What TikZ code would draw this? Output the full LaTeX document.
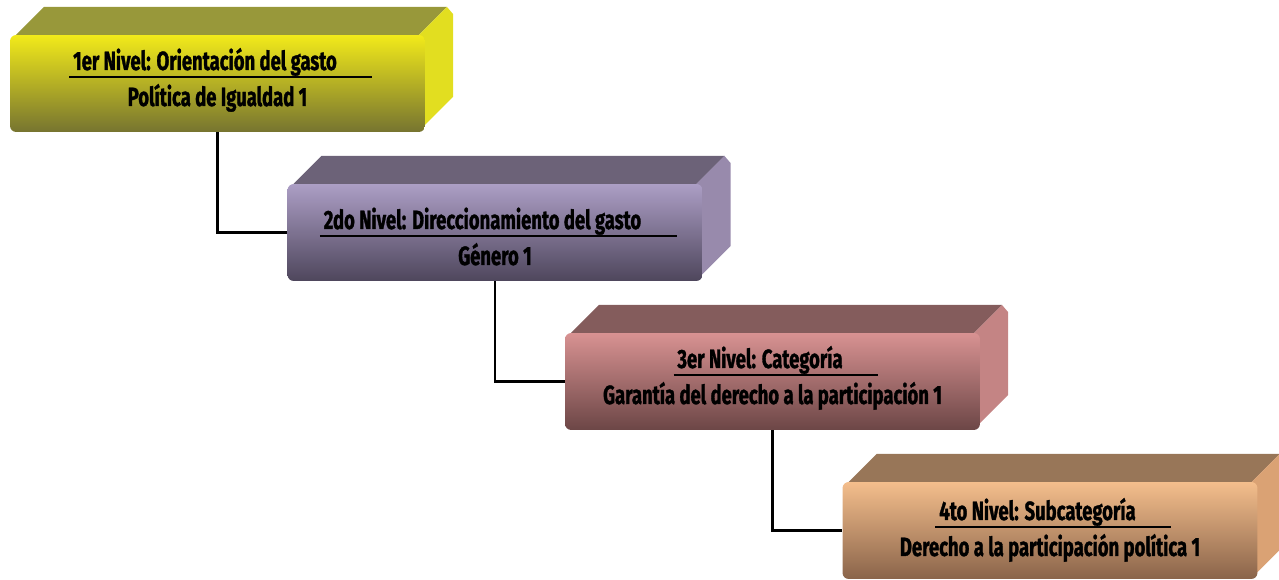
\documentclass[tikz,border=0pt]{standalone}
\usepackage{fontspec}
\setmainfont{Fira Sans}[FakeStretch=0.7,BoldFeatures={FakeBold=1.2}]
\usetikzlibrary{positioning}

\definecolor{ye-hi}{RGB}{242,234,26}
\definecolor{ye-lo}{RGB}{118,116,48}
\definecolor{ye-top}{RGB}{152,152,58}
\definecolor{ye-side}{RGB}{226,222,32}
\definecolor{li-hi}{RGB}{172,158,197}
\definecolor{li-lo}{RGB}{78,70,92}
\definecolor{li-top}{RGB}{108,98,120}
\definecolor{li-side}{RGB}{152,138,172}
\definecolor{ro-hi}{RGB}{216,146,146}
\definecolor{ro-lo}{RGB}{108,70,70}
\definecolor{ro-top}{RGB}{132,92,92}
\definecolor{ro-side}{RGB}{196,132,132}
\definecolor{pe-hi}{RGB}{244,190,140}
\definecolor{pe-lo}{RGB}{138,100,74}
\definecolor{pe-top}{RGB}{152,118,88}
\definecolor{pe-side}{RGB}{218,162,116}

\begin{document}
\begin{tikzpicture}[x=0.02cm,y=-0.02cm,
	front/.style={rectangle,rounded corners=3.5pt,minimum width=8.3cm,minimum height=1.94cm,inner sep=0pt},
	lvltext/.style={font=\bfseries\fontsize{15}{17}\selectfont,inner sep=0pt,anchor=base},
	conn/.style={line width=1.7pt,black},
	uline/.style={line width=1.4pt,black}]
	\useasboundingbox (0,0) rectangle (1279,580);

	\foreach \i/\c/\o/\h/\t in {
		0/ye/0/{1er Nivel: Orientación del gasto}/{Política de Igualdad 1},
		1/li/10/{2do Nivel: Direccionamiento del gasto}/{Género 1},
		2/ro/0/{3er Nivel: Categoría}/{Garantía del derecho a la participación 1},
		3/pe/3/{4to Nivel: Subcategoría}/{Derecho a la participación política 1}}{
		\pgfmathsetmacro\x{10+277.5*\i}
		\pgfmathsetmacro\y{35+149*\i}
		% top and side faces
		\fill[\c-top] (\x+6,\y) -- (\x+34,\y-28) -- (\x+437,\y-28) -- (\x+409,\y) -- cycle;
		\fill[\c-side] (\x+405,\y+4) -- (\x+437,\y-28) -- (\x+443,\y-21) -- (\x+443,\y+62) -- (\x+410,\y+95) -- cycle;
		% front face
		\node[front,top color=\c-hi,middle color=\c-hi!80!\c-lo,bottom color=\c-lo] (f\i) at (\x+207.5,\y+48.5) {};
		\node[lvltext] (h\i) at (\x+195,\y+35+\o) {\h};
		\node[lvltext] (t\i) at (\x+207.5,\y+71+\o) {\t};
		\draw[uline] ([shift={(-2pt,-4pt)}]h\i.base west) -- ([shift={(20pt,-4pt)}]h\i.base east);
	}

	\foreach \a/\b in {0/1,1/2,2/3}
		\draw[conn] (f\a.south) |- (f\b.west);
\end{tikzpicture}
\end{document}
